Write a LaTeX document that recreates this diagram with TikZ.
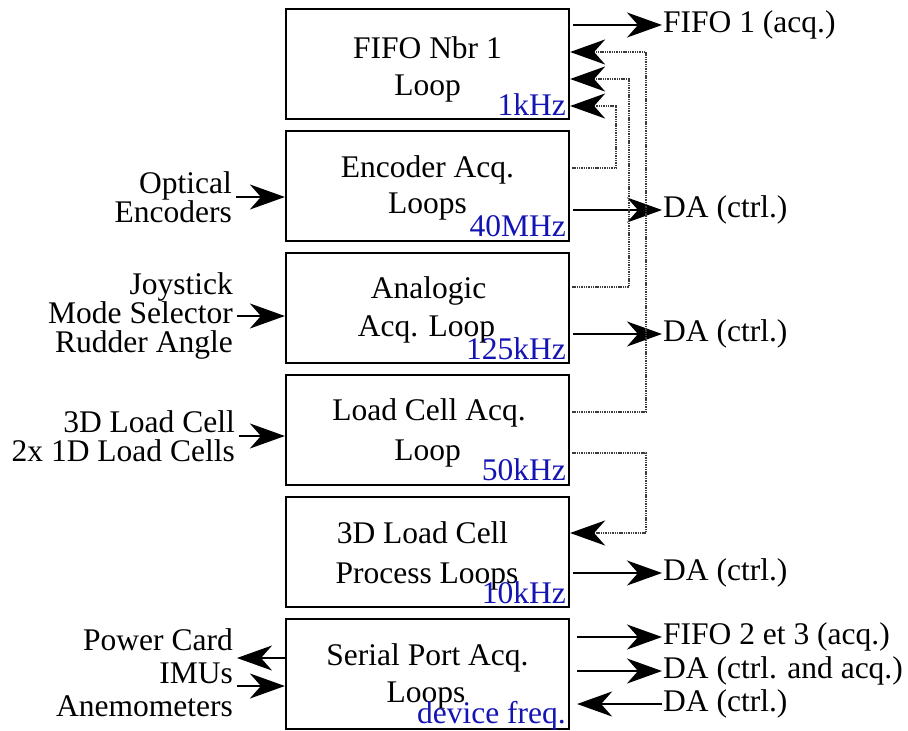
\documentclass[tikz,border=0pt]{standalone}
\usepackage{fontspec}
\setmainfont{Liberation Serif}
\usetikzlibrary{arrows.meta,calc}
\definecolor{freqblue}{RGB}{20,20,180}
\definecolor{dotgray}{RGB}{60,60,60}
\begin{document}
\begin{tikzpicture}[x=1pt,y=-1pt,
  box/.style={draw, line width=2.2pt, minimum width=283pt, minimum height=110pt, inner sep=0pt},
  txt/.style={font=\fontsize{31.5}{36}\selectfont, inner sep=0pt},
  mtxt/.style={txt, anchor=base},
  freq/.style={txt, text=freqblue, anchor=base east},
  outl/.style={txt, anchor=west, text height=22pt, text depth=7pt, inner sep=1pt},
  inl/.style={font=\fontsize{31.5}{29}\selectfont, align=right, anchor=east, inner sep=4pt},
  arr/.style={line width=2.2pt, -{Stealth[length=35pt,width=25pt,inset=11pt]}},
  fb/.style={dotgray, line width=2.4pt, dash pattern=on 1.4pt off 0.9pt, -{Stealth[length=35pt,width=25pt,inset=11pt,black]}},
]
\useasboundingbox (0,0) rectangle (908,731);

% boxes
\node[box] (b1) at (427.5,64)  {};
\node[box] (b2) at (427.5,186) {};
\node[box] (b3) at (427.5,308) {};
\node[box] (b4) at (427.5,430) {};
\node[box] (b5) at (427.5,552) {};
\node[box] (b6) at (427.5,674) {};

% box texts
\node[mtxt] (t1a) at (427.5,58)  {FIFO Nbr 1};
\node[mtxt] (t1b) at (427.5,95)  {Loop};
\node[mtxt] (t2a) at (427.5,177) {Encoder Acq.};
\node[mtxt] (t2b) at (427.5,213) {Loops};
\node[mtxt] (t3a) at (428.5,298) {Analogic};
\node[mtxt] (t3b) at (426.5,336) {Acq. Loop};
\node[mtxt] (t4a) at (429,420)   {Load Cell Acq.};
\node[mtxt] (t4b) at (427.5,460) {Loop};
\node[mtxt] (t5a) at (422.5,543) {3D Load Cell};
\node[mtxt] (t5b) at (427,583)   {Process Loops};
\node[mtxt] (t6a) at (427.5,665) {Serial Port Acq.};
\node[mtxt] (t6b) at (426,702)   {Loops};

% frequencies
\node[freq] (f1) at (566,115) {1kHz};
\node[freq] (f2) at (566,236) {40MHz};
\node[freq] (f3) at (566,359) {125kHz};
\node[freq] (f4) at (566,480) {50kHz};
\node[freq] (f5) at (566,603) {10kHz};
\node[freq] (f6) at (566,723) {device freq.};

% left inputs
\node[inl] (i2) at (236,197) {Optical\\Encoders};
\node[inl] (i3) at (237,316) {Joystick\\Mode Selector\\Rudder Angle};
\node[inl] (i4) at (239,436) {3D Load Cell\\2x 1D Load Cells};
\node[inl, font=\fontsize{31.5}{33}\selectfont] (i6) at (237,673) {Power Card\hspace{10pt}\\IMUs\\Anemometers};

\draw[arr] (i2.east) -- (b2.west |- i2.east);
\draw[arr] (i3.east) -- (b3.west |- i3.east);
\draw[arr] (i4.east) -- (b4.west |- i4.east);
\draw[arr] (b6.west |- 0,658) -- (i6.east |- 0,658);
\draw[arr] (i6.east |- 0,686) -- (b6.west |- 0,686);

% right outputs
\node[outl] (o1) at (662,25)  {FIFO 1 (acq.)};
\node[outl] (o2) at (662,210) {DA (ctrl.)};
\node[outl] (o3) at (662,334) {DA (ctrl.)};
\node[outl] (o5) at (662,573) {DA (ctrl.)};
\node[outl] (o6) at (662,637) {FIFO 2 et 3 (acq.)};
\node[outl] (o7) at (662,671) {DA (ctrl. and acq.)};
\node[outl] (o8) at (662,704) {DA (ctrl.)};

\draw[arr] ([xshift=3pt]b1.east |- o1.west) -- (o1.west);
\draw[arr] ([xshift=3pt]b2.east |- o2.west) -- (o2.west);
\draw[arr] ([xshift=3pt]b3.east |- o3.west) -- (o3.west);
\draw[arr] ([xshift=3pt]b5.east |- o5.west) -- (o5.west);
\draw[arr] ([xshift=7pt]b6.east |- o6.west) -- (o6.west);
\draw[arr] ([xshift=7pt]b6.east |- o7.west) -- (o7.west);
\draw[arr] (o8.west) -- ([xshift=7pt]b6.east |- o8.west);

% feedback (dotted) connectors
\draw[fb] ([xshift=2pt]b2.east |- 0,168) -| (616,106) -- (b1.east |- 0,106);
\draw[fb] ([xshift=2pt]b3.east |- 0,287) -| (629,79)  -- (b1.east |- 0,79);
\draw[fb] ([xshift=2pt]b4.east |- 0,412) -| (646,52)  -- (b1.east |- 0,52);
\draw[fb] ([xshift=2pt]b4.east |- 0,453) -| (646,533) -- (b5.east |- 0,533);
\end{tikzpicture}
\end{document}
